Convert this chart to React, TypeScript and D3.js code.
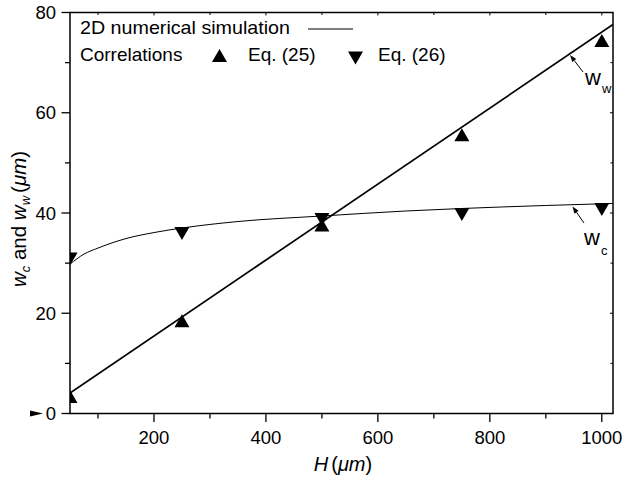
import React from "react";
import * as d3 from "d3";

// ---- data ----
const eqH = [50, 250, 500, 750, 1000];
const eq25 = [3.4, 18.5, 37.6, 55.6, 74.4];
const eq26 = [30.8, 35.9, 38.7, 39.7, 40.7];

const wwH = [50, 1020];
const wwSim = [4.1, 77.6];

const wcH = [50, 75, 100, 150, 200, 250, 350, 500, 650, 750, 900, 1020];
const wcSim = [29.8, 31.8, 33.0, 34.9, 36.1, 37.0, 38.3, 39.4, 40.4, 40.9, 41.5, 41.9];

const xTicks = [200, 400, 600, 800, 1000];
const xMinor = [100, 300, 500, 700, 900];
const yTicks = [0, 20, 40, 60, 80];
const yMinor = [10, 30, 50, 70];

const FONT = "'Liberation Sans', Arial, Helvetica, sans-serif";

export default function App() {
  const W = 624, Hh = 479;
  const left = 70, right = 613, top = 12.5, bottom = 413.5;
  const x = d3.scaleLinear().domain([50, 1020]).range([left, right]);
  const y = d3.scaleLinear().domain([0, 80]).range([bottom, top]);

  const line = d3.line<[number, number]>().x(d => x(d[0])).y(d => y(d[1]));
  const wwPath = line(wwH.map((h, i) => [h, wwSim[i]]))!;
  const wcPath = d3.line<[number, number]>()
    .x(d => x(d[0])).y(d => y(d[1]))
    .curve(d3.curveMonotoneX)(wcH.map((h, i) => [h, wcSim[i]]))!;

  const up = (cx: number, cy: number) => `M${cx},${cy - 6.5}L${cx + 7.5},${cy + 6.5}L${cx - 7.5},${cy + 6.5}Z`;
  const down = (cx: number, cy: number) => `M${cx},${cy + 6.5}L${cx + 7.5},${cy - 6.5}L${cx - 7.5},${cy - 6.5}Z`;

  const arrow = (x1: number, y1: number, x2: number, y2: number) => {
    const ang = Math.atan2(y2 - y1, x2 - x1);
    const L = 7, w = 2.5;
    const bx = x2 - L * Math.cos(ang), by = y2 - L * Math.sin(ang);
    const px = -Math.sin(ang) * w, py = Math.cos(ang) * w;
    return (
      <g>
        <line x1={x1} y1={y1} x2={bx} y2={by} stroke="#000" strokeWidth={1} />
        <path d={`M${x2},${y2}L${bx + px},${by + py}L${bx - px},${by - py}Z`} fill="#000" />
      </g>
    );
  };

  return (
    <svg width={W} height={Hh} style={{ position: "absolute", left: 0, top: 0, background: "#fff" }} fontFamily={FONT}>
      <defs>
        <clipPath id="plot">
          <rect x={left} y={top} width={right - left} height={bottom - top} />
        </clipPath>
      </defs>
      <rect x={0} y={0} width={W} height={Hh} fill="#fff" />

      <rect x={left} y={top} width={right - left} height={bottom - top} fill="none" stroke="#000" strokeWidth={1.5} />

      {xTicks.map(t => (
        <g key={"xt" + t}>
          <line x1={x(t)} x2={x(t)} y1={bottom} y2={bottom + 8.5} stroke="#000" strokeWidth={1.3} />
          <line x1={x(t)} x2={x(t)} y1={top} y2={top + 3} stroke="#000" strokeWidth={1} />
          <text x={x(t)} y={443.5} textAnchor="middle" fontSize={18.5}>{t}</text>
        </g>
      ))}
      {xMinor.map(t => (
        <g key={"xm" + t}>
          <line x1={x(t)} x2={x(t)} y1={bottom} y2={bottom + 5} stroke="#000" strokeWidth={1.3} />
          <line x1={x(t)} x2={x(t)} y1={top} y2={top + 2.5} stroke="#000" strokeWidth={1} />
        </g>
      ))}
      {yTicks.map(t => (
        <g key={"yt" + t}>
          <line x1={left - 8.5} x2={left} y1={y(t)} y2={y(t)} stroke="#000" strokeWidth={1.3} />
          <line x1={right - 3} x2={right} y1={y(t)} y2={y(t)} stroke="#000" strokeWidth={1} />
          <text x={56} y={y(t) + 6.5} textAnchor="end" fontSize={18.5}>{t}</text>
        </g>
      ))}
      {yMinor.map(t => (
        <g key={"ym" + t}>
          <line x1={left - 5} x2={left} y1={y(t)} y2={y(t)} stroke="#000" strokeWidth={1.3} />
          <line x1={right - 2.5} x2={right} y1={y(t)} y2={y(t)} stroke="#000" strokeWidth={1} />
        </g>
      ))}
      <path d={`M30,${y(0) - 3}L43,${y(0)}L30,${y(0) + 3}Z`} fill="#000" />

      <g clipPath="url(#plot)">
        <path d={wwPath} fill="none" stroke="#000" strokeWidth={1.7} />
        <path d={wcPath} fill="none" stroke="#000" strokeWidth={1} />
        {eqH.map((h, i) => <path key={"u" + i} d={up(x(h), y(eq25[i]))} fill="#000" />)}
        {eqH.map((h, i) => <path key={"d" + i} d={down(x(h), y(eq26[i]))} fill="#000" />)}
      </g>

      {arrow(583, 72, 570, 55)}
      <text x={585} y={85} fontSize={22}>w</text>
      <text x={602} y={93} fontSize={13}>w</text>
      {arrow(584, 223, 572.5, 206.5)}
      <text x={584} y={245} fontSize={22}>w</text>
      <text x={601} y={255} fontSize={13}>c</text>

      <text x={80} y={34} fontSize={19} textLength={210} lengthAdjust="spacingAndGlyphs">2D numerical simulation</text>
      <line x1={308} x2={353} y1={29} y2={29} stroke="#000" strokeWidth={1} />
      <text x={80} y={60.5} fontSize={19}>Correlations</text>
      <path d={up(219.5, 55.5)} fill="#000" />
      <text x={248} y={60.5} fontSize={19}>Eq. (25)</text>
      <path d={down(355.5, 58)} fill="#000" />
      <text x={378} y={60.5} fontSize={19}>Eq. (26)</text>

      <text x={343} y={471} textAnchor="middle" fontSize={20}>
        <tspan fontStyle="italic">H</tspan>
        <tspan dx={3}>(</tspan>
        <tspan fontStyle="italic">μm</tspan>
        <tspan>)</tspan>
      </text>
      <text transform={`translate(26,${219}) rotate(-90)`} textAnchor="middle" fontSize={20.5}>
        <tspan fontStyle="italic">w</tspan>
        <tspan fontStyle="italic" fontSize={13} dy={4}>c</tspan>
        <tspan dy={-4}> and </tspan>
        <tspan fontStyle="italic">w</tspan>
        <tspan fontStyle="italic" fontSize={13} dy={4}>w</tspan>
        <tspan dy={-4} dx={3}>(</tspan>
        <tspan fontStyle="italic">μm</tspan>
        <tspan>)</tspan>
      </text>
    </svg>
  );
}
